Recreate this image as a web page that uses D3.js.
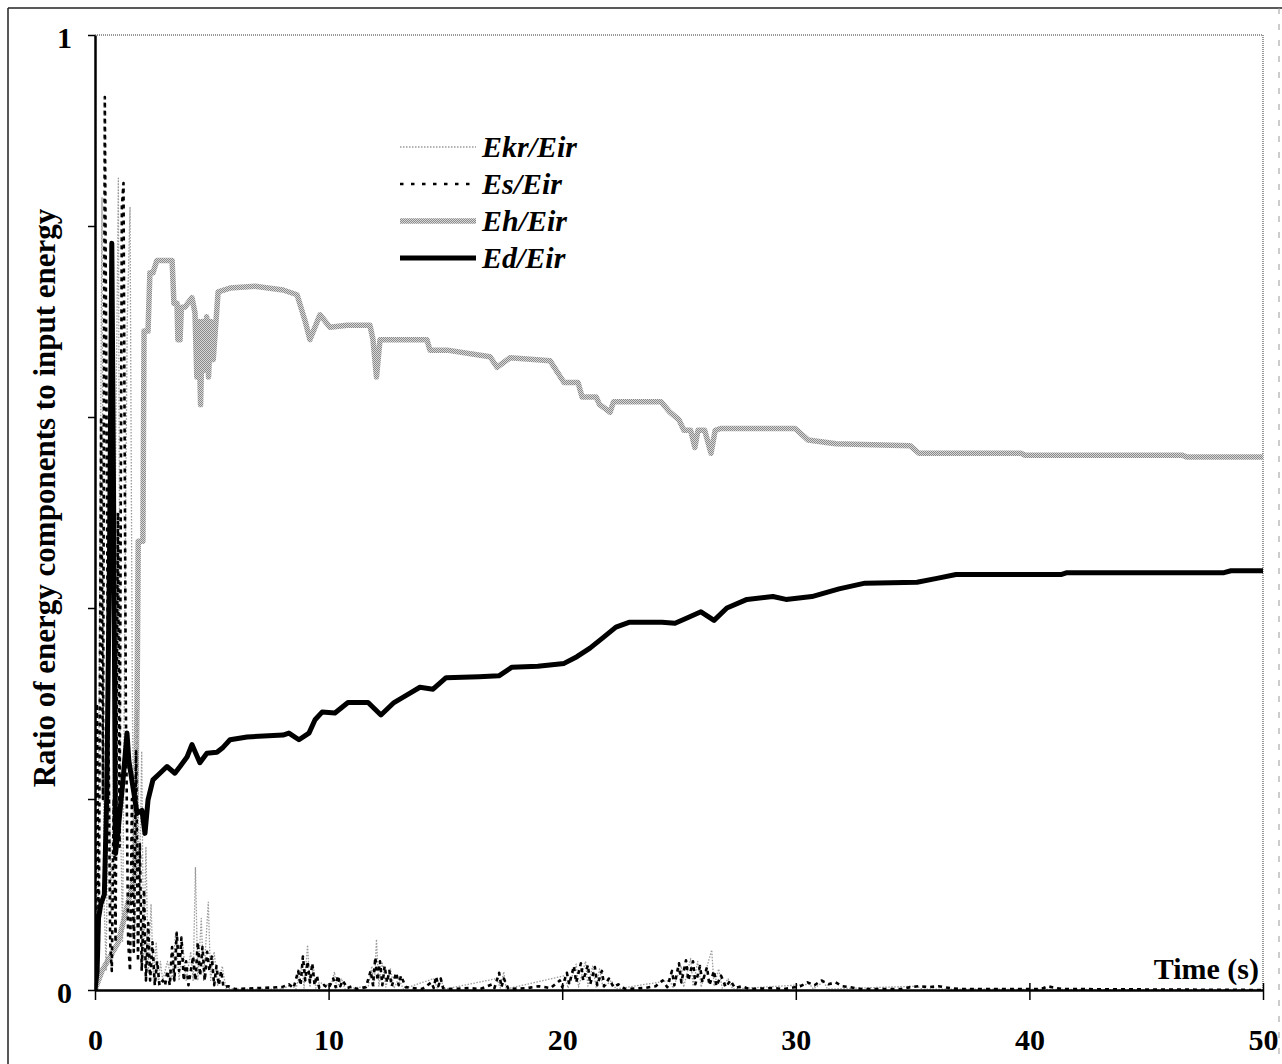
<!DOCTYPE html>
<html>
<head>
<meta charset="utf-8">
<script src="https://cdn.jsdelivr.net/npm/d3@7"></script>
<style>
  body { margin: 0; background: #fff; }
  text { font-family: "Liberation Serif", "Times New Roman", serif; font-weight: bold; }
</style>
</head>
<body>
<script>

    // time (s) , ratio
    var ehData = [[0,0],[0.3,0.02],[1.0,0.05],[1.7,0.12],[1.8,0.30],[1.85,0.47],[2.05,0.47],[2.1,0.69],[2.27,0.69],[2.35,0.751],[2.48,0.751],[2.65,0.764],[3.30,0.764],[3.38,0.719],[3.51,0.719],[3.55,0.681],[3.64,0.681],[3.7,0.715],[3.85,0.715],[4.15,0.725],[4.28,0.709],[4.36,0.642],[4.44,0.70],[4.52,0.613],[4.6,0.70],[4.68,0.649],[4.78,0.705],[4.86,0.642],[4.96,0.70],[5.06,0.66],[5.27,0.731],[5.78,0.735],[6.85,0.737],[8.05,0.733],[8.65,0.728],[9.0,0.70],[9.20,0.681],[9.63,0.707],[10.06,0.694],[10.79,0.696],[11.77,0.696],[11.90,0.681],[12.05,0.642],[12.2,0.681],[14.21,0.681],[14.34,0.670],[15.07,0.670],[16.91,0.663],[17.21,0.652],[17.77,0.662],[19.48,0.659],[20.08,0.636],[20.68,0.636],[20.85,0.621],[21.45,0.621],[21.6,0.613],[22.05,0.605],[22.2,0.616],[24.23,0.616],[24.61,0.605],[25.0,0.597],[25.21,0.586],[25.5,0.586],[25.68,0.568],[25.81,0.586],[26.1,0.586],[26.37,0.562],[26.55,0.586],[26.80,0.588],[29.97,0.588],[30.52,0.576],[31.72,0.572],[34.89,0.570],[35.27,0.562],[39.64,0.562],[39.81,0.560],[46.53,0.560],[46.75,0.558],[50,0.558]];

    var edData = [[0,0],[0.09,0.02],[0.15,0.075],[0.25,0.09],[0.4,0.10],[0.5,0.2],[0.62,0.45],[0.72,0.782],[0.80,0.5],[0.88,0.143],[1.0,0.17],[1.2,0.22],[1.37,0.269],[1.45,0.24],[1.80,0.185],[2.01,0.188],[2.14,0.164],[2.27,0.199],[2.48,0.22],[2.78,0.227],[3.08,0.234],[3.42,0.227],[3.64,0.234],[3.94,0.244],[4.15,0.257],[4.49,0.238],[4.79,0.248],[5.22,0.249],[5.48,0.254],[5.78,0.262],[6.51,0.265],[8.05,0.267],[8.30,0.269],[8.73,0.262],[9.16,0.269],[9.42,0.283],[9.72,0.291],[10.27,0.290],[10.83,0.301],[11.69,0.301],[12.24,0.288],[12.80,0.301],[13.36,0.309],[13.91,0.317],[14.47,0.315],[15.03,0.327],[16.44,0.328],[17.29,0.329],[17.85,0.338],[18.96,0.339],[20.08,0.342],[20.63,0.349],[21.19,0.358],[21.75,0.369],[22.30,0.380],[22.86,0.385],[24.27,0.385],[24.83,0.384],[25.39,0.390],[25.94,0.396],[26.50,0.387],[27.05,0.400],[27.91,0.409],[29.02,0.412],[29.58,0.409],[30.69,0.412],[31.85,0.420],[32.96,0.426],[35.19,0.427],[36.04,0.431],[36.86,0.435],[41.35,0.435],[41.61,0.437],[48.33,0.437],[48.63,0.439],[50,0.439]];

    var esData = [[0,0],[0.08,0.3],[0.16,0.04],[0.26,0.6],[0.34,0.2],[0.42,0.935],[0.55,0.35],[0.65,0.05],[0.72,0.02],[0.8,0.2],[0.88,0.05],[0.98,0.5],[1.05,0.15],[1.15,0.82],[1.22,0.845],[1.32,0.3],[1.42,0.05],[1.5,0.02],[1.58,0.2],[1.66,0.04],[1.76,0.25],[1.84,0.03],[1.92,0.154],[2.0,0.02],[2.1,0.105],[2.18,0.01],[2.28,0.07],[2.36,0.01],[2.46,0.05],[2.56,0.005],[2.66,0.03],[2.76,0.005],
      [2.9,0.01],[3.0,0.005],[3.1,0.02],[3.2,0.005],[3.3,0.045],[3.4,0.01],[3.5,0.06],[3.6,0.02],[3.7,0.055],[3.8,0.01],[3.9,0.03],[4.0,0.005],[4.1,0.02],[4.2,0.035],[4.3,0.01],[4.4,0.05],[4.5,0.015],[4.6,0.045],[4.7,0.01],[4.8,0.04],[4.9,0.02],[5.0,0.035],[5.1,0.005],[5.2,0.025],[5.3,0.005],[5.4,0.02],[5.5,0.003],[5.7,0.004],[6.0,0.001],[8.0,0.003],[8.3,0.006],[8.5,0.002],[8.7,0.02],[8.8,0.005],[8.9,0.035],[9.0,0.01],[9.1,0.03],[9.2,0.008],[9.3,0.028],[9.4,0.005],[9.5,0.015],[9.6,0.002],[9.8,0.005],[10.0,0.002],[10.2,0.012],[10.3,0.003],[10.4,0.015],[10.5,0.004],[10.6,0.01],[10.8,0.002],[11.0,0.004],[11.2,0.001],[11.6,0.003],[11.8,0.02],[11.9,0.005],[12.0,0.034],[12.1,0.01],[12.2,0.03],[12.3,0.005],[12.4,0.025],[12.5,0.008],[12.6,0.02],[12.7,0.004],[12.9,0.018],[13.0,0.005],[13.1,0.015],[13.3,0.003],[13.6,0.002],[14.0,0.001],[14.4,0.008],[14.5,0.002],[14.6,0.014],[14.7,0.004],[14.8,0.012],[14.9,0.002],[15.2,0.001],[16.0,0.002],[16.5,0.001],[17.0,0.006],[17.1,0.002],[17.3,0.018],[17.4,0.003],[17.5,0.012],[17.7,0.001],[18.5,0.002],[19.0,0.004],[19.5,0.002],[19.9,0.01],[20.0,0.003],[20.2,0.018],[20.3,0.006],[20.5,0.025],[20.6,0.008],[20.8,0.028],[20.9,0.01],[21.1,0.026],[21.2,0.006],[21.4,0.024],[21.5,0.005],[21.7,0.02],[21.8,0.004],[22.0,0.012],[22.2,0.003],[22.4,0.006],[22.7,0.001],[23.5,0.002],[24.0,0.004],[24.3,0.01],[24.5,0.003],[24.7,0.02],[24.8,0.005],[25.0,0.028],[25.1,0.008],[25.3,0.031],[25.4,0.01],[25.6,0.03],[25.7,0.006],[25.9,0.025],[26.0,0.008],[26.2,0.024],[26.3,0.005],[26.5,0.02],[26.6,0.004],[26.8,0.015],[27.0,0.003],[27.2,0.01],[27.4,0.002],[27.7,0.004],[28.0,0.001],[29.0,0.002],[29.5,0.001],[30.2,0.004],[30.5,0.008],[30.8,0.005],[31.1,0.01],[31.4,0.006],[31.7,0.008],[32.0,0.004],[32.3,0.003],[32.8,0.001],[34.5,0.001],[34.9,0.003],[35.3,0.004],[35.7,0.003],[36.1,0.004],[36.6,0.002],[37.0,0.001],[40.5,0.001],[40.8,0.004],[41.1,0.002],[41.4,0.001],[50,0]];

    var ekrData = [[0,0],[0.04,0.15],[0.12,0.02],[0.22,0.5],[0.3,0.83],[0.38,0.1],[0.48,0.02],[0.58,0.3],[0.68,0.08],[0.78,0.2],[0.9,0.6],[1.0,0.85],[1.08,0.2],[1.18,0.05],[1.28,0.4],[1.38,0.7],[1.5,0.82],[1.6,0.3],[1.7,0.05],[1.8,0.293],[1.9,0.1],[2.0,0.25],[2.08,0.03],[2.18,0.15],[2.28,0.02],[2.4,0.09],[2.5,0.01],[2.62,0.05],[2.72,0.005],[2.8,0.03],
      [2.9,0.01],[3.1,0.03],[3.3,0.01],[3.45,0.06],[3.6,0.01],[3.75,0.05],[3.9,0.01],[4.1,0.04],[4.2,0.01],[4.3,0.128],[4.4,0.01],[4.55,0.075],[4.65,0.01],[4.85,0.092],[4.95,0.01],[5.1,0.04],[5.25,0.005],[5.45,0.025],[5.6,0.002],[6.0,0.001],[8.0,0.001],[8.4,0.005],[8.6,0.001],[8.85,0.025],[8.95,0.002],[9.1,0.047],[9.2,0.003],[9.35,0.025],[9.45,0.002],[9.6,0.008],[10.1,0.004],[10.25,0.019],[10.35,0.002],[10.55,0.012],[10.7,0.001],[11.7,0.004],[11.85,0.025],[11.95,0.003],[12.05,0.053],[12.15,0.004],[12.3,0.028],[12.45,0.003],[12.65,0.022],[12.8,0.002],[13.0,0.012],[13.2,0.001],[14.5,0.012],[14.65,0.002],[14.8,0.01],[15.0,0.001],[17.2,0.012],[17.35,0.002],[17.5,0.019],[17.6,0.001],[20.1,0.015],[20.25,0.002],[20.6,0.027],[20.7,0.003],[21.0,0.03],[21.1,0.004],[21.3,0.025],[21.45,0.003],[21.6,0.022],[21.75,0.002],[22.1,0.01],[22.3,0.001],[24.6,0.01],[24.75,0.002],[25.1,0.025],[25.2,0.003],[25.5,0.033],[25.6,0.004],[25.8,0.03],[25.95,0.003],[26.4,0.042],[26.5,0.004],[26.7,0.022],[26.85,0.002],[27.1,0.012],[27.3,0.001],[30.6,0.006],[30.75,0.001],[31.2,0.009],[31.35,0.001],[35.2,0.004],[35.4,0.001],[50,0]];

    var xTicks = [0,10,20,30,40,50];
    var yTicks = [0,0.2,0.4,0.6,0.8,1];
    var legendNames = ["Ekr/Eir","Es/Eir","Eh/Eir","Ed/Eir"];

    var w = 1282, h = 1064;
    var svg = d3.select("body").append("svg").attr("width", w).attr("height", h);

    // halftone-like stipple for the Eh curve
    var pat = svg.append("defs").append("pattern").attr("id","stip")
       .attr("patternUnits","userSpaceOnUse").attr("width",2).attr("height",2);
    pat.append("rect").attr("width",2).attr("height",2).attr("fill","#d8d8d8");
    pat.append("rect").attr("width",1).attr("height",1).attr("fill","#8a8a8a");
    pat.append("rect").attr("x",1).attr("y",1).attr("width",1).attr("height",1).attr("fill","#8a8a8a");

    var x = d3.scaleLinear().domain([0,50]).range([95,1263]);
    var y = d3.scaleLinear().domain([0,1]).range([990,35]);

    // outer frame of the scanned figure
    svg.append("line").attr("x1",8).attr("y1",8).attr("x2",1282).attr("y2",8).attr("stroke","#222").attr("stroke-width",1.5);
    svg.append("line").attr("x1",8).attr("y1",8).attr("x2",8).attr("y2",1064).attr("stroke","#222").attr("stroke-width",1.5);
    svg.append("line").attr("x1",1279).attr("y1",8).attr("x2",1279).attr("y2",1064).attr("stroke","#999").attr("stroke-width",1).attr("stroke-dasharray","6,10");

    // top and right plot borders (dotted grey)
    svg.append("line").attr("x1",x(0)).attr("y1",y(1)).attr("x2",x(50)).attr("y2",y(1)).attr("stroke","#777").attr("stroke-width",1.5).attr("stroke-dasharray","1,1");
    svg.append("line").attr("x1",x(50)).attr("y1",y(1)).attr("x2",x(50)).attr("y2",y(0)).attr("stroke","#777").attr("stroke-width",1.5).attr("stroke-dasharray","1,1");

    svg.append("clipPath").attr("id","plot").append("rect")
       .attr("x",x(0)).attr("y",y(1)).attr("width",x(50)-x(0)).attr("height",y(0)-y(1));

    var line = d3.line().x(function(d){return x(d[0]);}).y(function(d){return y(d[1]);});
    var g = svg.append("g").attr("clip-path","url(#plot)");

    var styles = {
      ekr: {stroke:"#9a9a9a",     width:1.3, dash:"1.5,1.5", legDash:"1.5,1.5"},
      es:  {stroke:"#000",        width:2.6, dash:"4,4",     legDash:"3.5,7.5"},
      eh:  {stroke:"url(#stip)",  width:5.5, dash:null,      legDash:null},
      ed:  {stroke:"#000",        width:5,   dash:null,      legDash:null}
    };

    function drawSeries(data, s) {
      g.append("path").datum(data)
        .attr("d", line)
        .attr("fill","none")
        .attr("stroke", s.stroke)
        .attr("stroke-width", s.width)
        .attr("stroke-dasharray", s.dash)
        .attr("stroke-linejoin","round");
    }
    drawSeries(ehData, styles.eh);
    drawSeries(ekrData, styles.ekr);
    drawSeries(esData, styles.es);
    drawSeries(edData, styles.ed);

    // axes
    var yAxis = svg.append("g").attr("transform","translate(" + x(0) + ",0)")
       .call(d3.axisLeft(y).tickValues(yTicks).tickSize(7).tickSizeOuter(0).tickPadding(16)
             .tickFormat(function(d){ return (d === 0 || d === 1) ? d : ""; }));
    yAxis.select(".domain").attr("stroke-width",2.5);
    yAxis.selectAll(".tick line").attr("stroke-width",1.5);
    yAxis.selectAll(".tick text").attr("font-size","30px").attr("fill","#000").attr("dy","0.42em")
       .style("font-family","'Liberation Serif', serif").style("font-weight","bold");

    var xAxis = svg.append("g").attr("transform","translate(0," + y(0) + ")")
       .call(d3.axisBottom(x).tickValues(xTicks).tickSize(10).tickSizeOuter(0));
    xAxis.select(".domain").attr("stroke-width",2.5);
    xAxis.selectAll(".tick line").attr("y1",-7).attr("stroke-width",1.5);
    xAxis.selectAll(".tick text").attr("y",60).attr("dy",0).attr("font-size","30px").attr("fill","#000")
       .style("font-family","'Liberation Serif', serif").style("font-weight","bold");

    svg.append("text").attr("x",1259).attr("y",979).attr("text-anchor","end")
       .attr("font-size","30px").text("Time (s)");

    svg.append("text").attr("transform","translate(55,498) rotate(-90)")
       .attr("text-anchor","middle").attr("font-size","31px")
       .text("Ratio of energy components to input energy");

    // legend
    var legStyles = [styles.ekr, styles.es, styles.eh, styles.ed];
    var leg = svg.append("g").selectAll("g").data(legendNames).enter().append("g")
       .attr("transform", function(d,i){ return "translate(0," + (157 + i*37) + ")"; });
    leg.append("line")
       .attr("x1",400).attr("x2",476).attr("y1",-10).attr("y2",-10)
       .attr("stroke", function(d,i){ return legStyles[i].stroke; })
       .attr("stroke-width", function(d,i){ return legStyles[i].width; })
       .attr("stroke-dasharray", function(d,i){ return legStyles[i].legDash; });
    leg.append("text").attr("x",482).attr("y",0)
       .attr("font-size","30px").attr("font-style","italic")
       .text(function(d){ return d; });

</script>
</body>
</html>
